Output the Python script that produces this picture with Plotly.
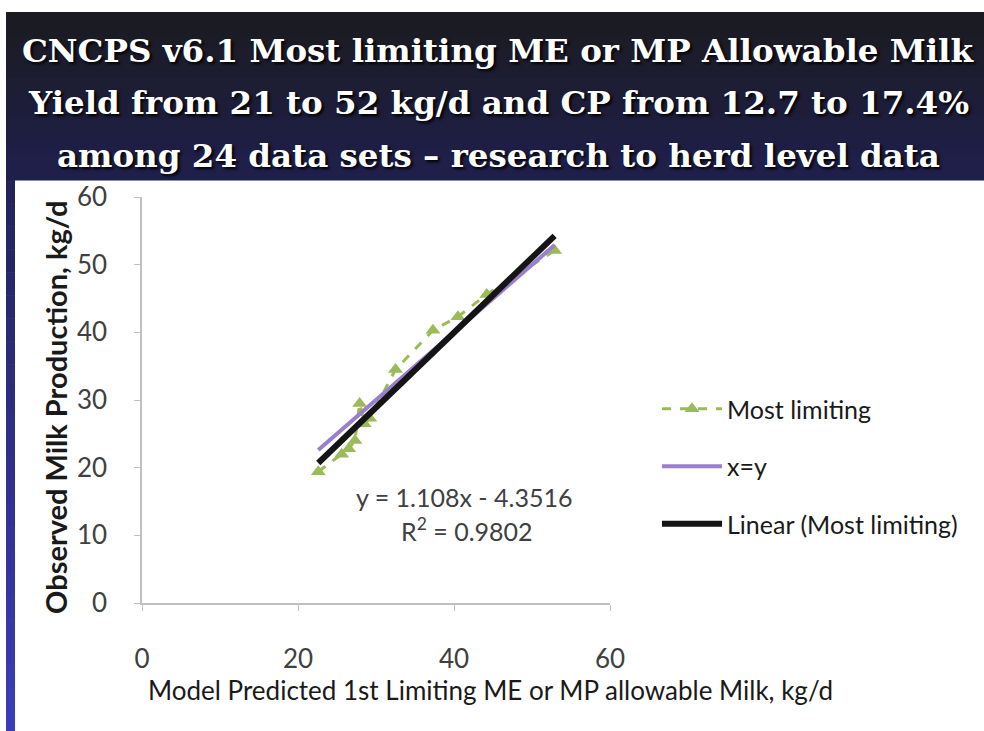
import plotly.graph_objects as go

# ---------------- data ----------------
predicted = [22.6, 25.6, 26.5, 27.3, 27.9, 28.5, 29.2, 32.5, 37.3, 40.5, 44.2, 52.9]
observed = [19.4, 22.0, 22.8, 24.0, 29.5, 26.5, 27.3, 34.5, 40.3, 42.3, 45.6, 52.1]
slope = 1.108
intercept = -4.3516
r2 = 0.9802
x_ticks = [0, 20, 40, 60]
y_ticks = [0, 10, 20, 30, 40, 50, 60]
title_lines = [
    "CNCPS v6.1 Most limiting ME or MP Allowable Milk",
    "Yield from 21 to 52 kg/d and CP from 12.7 to 17.4%",
    "among 24 data sets \u2013 research to herd level data",
]

W, H = 984, 731
L, R, T, B = 142, 374, 197, 128
PW, PH = W - L - R, H - T - B


def px(p):
    return (p - L) / PW


def py(p):
    return (H - B - p) / PH


xmin, xmax = min(predicted), max(predicted)
fit_x = [xmin, xmax]
fit_y = [slope * v + intercept for v in fit_x]

fig = go.Figure()
fig.add_trace(go.Scatter(
    x=predicted, y=observed, mode="lines+markers", name="Most limiting",
    line=dict(color="#9bbb59", width=3, dash="dash"),
    marker=dict(symbol="triangle-up", size=13, color="#9bbb59"),
    legendgroup="a",
))
fig.add_trace(go.Scatter(
    x=fit_x, y=fit_x, mode="lines", name="x=y",
    line=dict(color="#9a7fcf", width=4), legendgroup="b",
))
fig.add_trace(go.Scatter(
    x=fit_x, y=fit_y, mode="lines", name="Linear (Most limiting)",
    line=dict(color="#151515", width=6), legendgroup="c",
))

shapes = []
# banner gradient
top_c = (27, 27, 33)
bot_c = (31, 31, 76)
n = 28
y_top, y_bot = 12, 180
for i in range(n):
    t = i / (n - 1)
    c = tuple(int(round(top_c[k] + (bot_c[k] - top_c[k]) * t)) for k in range(3))
    ya = y_top + (y_bot - y_top) * i / n
    yb = y_top + (y_bot - y_top) * (i + 1) / n + 0.6
    shapes.append(dict(type="rect", xref="paper", yref="paper",
                       x0=px(6), x1=px(W + 2), y0=py(ya), y1=py(yb),
                       line=dict(width=0), fillcolor="rgb(%d,%d,%d)" % c, layer="below"))
# left strip gradient
s_top = (35, 35, 90)
s_bot = (60, 60, 185)
m = 24
for i in range(m):
    t = i / (m - 1)
    c = tuple(int(round(s_top[k] + (s_bot[k] - s_top[k]) * t)) for k in range(3))
    ya = 180 + (H + 2 - 180) * i / m
    yb = 180 + (H + 2 - 180) * (i + 1) / m + 0.6
    shapes.append(dict(type="rect", xref="paper", yref="paper",
                       x0=px(6), x1=px(15), y0=py(ya), y1=py(yb),
                       line=dict(width=0), fillcolor="rgb(%d,%d,%d)" % c, layer="below"))

annotations = []
for i, line in enumerate(title_lines):
    annotations.append(dict(
        text="<b>%s</b>" % line, x=px(498), y=py(50 + 52.5 * i), xref="paper", yref="paper",
        xanchor="center", yanchor="middle", showarrow=False,
        font=dict(family="DejaVu Serif", size=32.5, color="white",
                  shadow="2px 2px 3px #000000"),
    ))
annotations.append(dict(
    text="y = %.3fx - %.4f" % (slope, -intercept), x=px(464), y=py(497), xref="paper", yref="paper",
    xanchor="center", yanchor="middle", showarrow=False,
    font=dict(family="Lato", size=25, color="#404040"),
))
annotations.append(dict(
    text="R<sup>2</sup> = %.4f" % r2, x=px(467), y=py(529), xref="paper", yref="paper",
    xanchor="center", yanchor="middle", showarrow=False,
    font=dict(family="Lato", size=25, color="#404040"),
))
annotations.append(dict(
    text="Model Predicted 1st Limiting ME or MP allowable Milk, kg/d",
    x=px(490), y=py(690), xref="paper", yref="paper",
    xanchor="center", yanchor="middle", showarrow=False,
    font=dict(family="Lato", size=26, color="#1a1a1a"),
))
annotations.append(dict(
    text="Observed Milk Production, kg/d", textangle=-90,
    x=px(55), y=py(408), xref="paper", yref="paper",
    xanchor="center", yanchor="middle", showarrow=False,
    font=dict(family="Lato", size=29, color="#1a1a1a", weight="bold"),
))

fig.update_layout(
    width=W, height=H,
    margin=dict(l=L, r=R, t=T, b=B),
    paper_bgcolor="white", plot_bgcolor="white",
    shapes=shapes, annotations=annotations,
    showlegend=True,
    legend=dict(
        x=px(657), y=py(386), xanchor="left", yanchor="top",
        xref="paper", yref="paper",
        font=dict(family="Lato", size=25, color="#1a1a1a"),
        itemwidth=60, traceorder="grouped", tracegroupgap=22,
        bgcolor="rgba(0,0,0,0)",
    ),
    xaxis=dict(
        range=[0, 60], tickvals=x_ticks, showgrid=False, zeroline=False,
        showline=True, linecolor="#c0c0c0", linewidth=1.5,
        ticks="outside", ticklen=6, tickcolor="#c0c0c0",
        ticklabelstandoff=26,
        tickfont=dict(family="Lato", size=26, color="#404040"),
    ),
    yaxis=dict(
        range=[0, 60], tickvals=y_ticks, showgrid=False, zeroline=False,
        showline=True, linecolor="#c0c0c0", linewidth=1.5,
        ticks="outside", ticklen=6, tickcolor="#c0c0c0",
        ticklabelstandoff=22,
        tickfont=dict(family="Lato", size=26, color="#404040"),
    ),
)

fig.write_html("out.html", config={"displayModeBar": False},
               post_script="document.body.style.margin='0px';")
